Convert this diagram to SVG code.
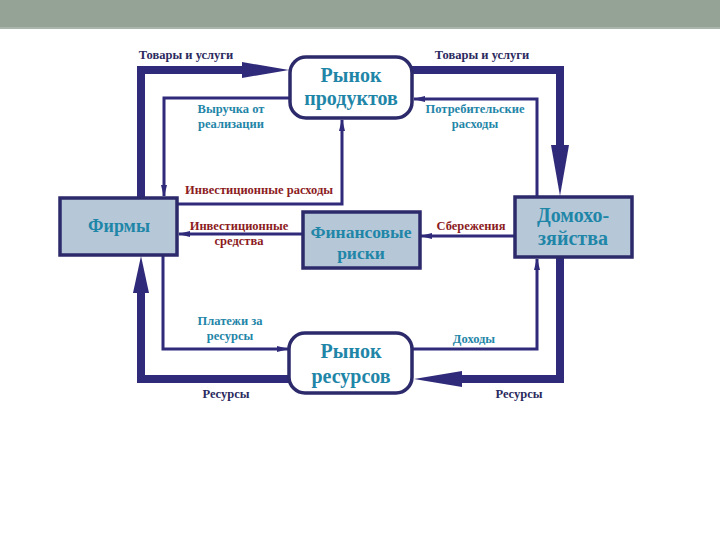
<svg xmlns="http://www.w3.org/2000/svg" width="720" height="540" viewBox="0 0 720 540">
<defs>
<style>
.lbl{font-family:"Liberation Serif","DejaVu Serif",serif;font-weight:bold;font-size:12.5px;text-anchor:middle}
.navy{fill:#2b2a5e}
.teal{fill:#1f86a8}
.red{fill:#8c1c1e}
.node{font-family:"Liberation Serif","DejaVu Serif",serif;font-weight:bold;font-size:20px;text-anchor:middle;fill:#1f86a8}
.box{fill:#b6c8d8;stroke:#2d2a6b;stroke-width:3.5}
.mkt{fill:#ffffff;stroke:#2d2a6b;stroke-width:3.5}
.thick{fill:none;stroke:#2f2a7a;stroke-width:8}
.thin{fill:none;stroke:#2f2a7a;stroke-width:3}
.head{fill:#2f2a7a}
</style>
<marker id="ah" markerWidth="12" markerHeight="8" refX="11" refY="4" orient="auto" markerUnits="userSpaceOnUse">
<path d="M0,1 L12,4 L0,7 Z" fill="#2f2a7a"/>
</marker>
</defs>
<rect x="0" y="0" width="720" height="540" fill="#ffffff"/>
<rect x="0" y="0" width="720" height="27" fill="#94a396"/>
<rect x="0" y="27" width="720" height="2" fill="#a9b5ab"/>

<g id="connectors">
<path class="thick" d="M141,198 L141,70 L245,70"/>
<polygon class="head" points="242,62 289,70 242,78"/>
<path class="thick" d="M412,70 L560,70 L560,148"/>
<polygon class="head" points="551,145 560,196 569,145"/>
<path class="thick" d="M560,257 L560,379 L460,379"/>
<polygon class="head" points="462,371 414,379 462,387"/>
<path class="thick" d="M289,379 L141,379 L141,290"/>
<polygon class="head" points="133,293 141,256 149,293"/>
<path class="thin" d="M290,98 L164,98 L164,196" marker-end="url(#ah)"/>
<path class="thin" d="M537,197 L537,99 L414,99" marker-end="url(#ah)"/>
<path class="thin" d="M163,256 L163,349 L288,349" marker-end="url(#ah)"/>
<path class="thin" d="M412,349 L537,349 L537,259" marker-end="url(#ah)"/>
<path class="thin" d="M177,204 L342,204 L342,120" marker-end="url(#ah)"/>
<path class="thin" d="M303,234 L179,234" marker-end="url(#ah)"/>
<path class="thin" d="M515,236 L421,236" marker-end="url(#ah)"/>
</g>

<g id="labels">
<text class="lbl navy" x="186" y="59">Товары и услуги</text>
<text class="lbl navy" x="482" y="59">Товары и услуги</text>
<text class="lbl teal" x="231" y="113">Выручка от</text>
<text class="lbl teal" x="231" y="128">реализации</text>
<text class="lbl teal" x="475" y="113">Потребительские</text>
<text class="lbl teal" x="475" y="128">расходы</text>
<text class="lbl red" x="259" y="194">Инвестиционные расходы</text>
<text class="lbl red" x="239" y="230">Инвестиционные</text>
<text class="lbl red" x="239" y="245">средства</text>
<text class="lbl red" x="471" y="230">Сбережения</text>
<text class="lbl teal" x="230" y="325">Платежи за</text>
<text class="lbl teal" x="230" y="340">ресурсы</text>
<text class="lbl teal" x="474" y="343">Доходы</text>
<text class="lbl navy" x="226" y="398">Ресурсы</text>
<text class="lbl navy" x="519" y="398">Ресурсы</text>
</g>

<g id="product-market">
<rect class="mkt" x="290" y="57" width="122" height="61" rx="16"/>
<text class="node" x="351" y="82">Рынок</text>
<text class="node" x="351" y="105">продуктов</text>
</g>
<g id="resource-market">
<rect class="mkt" x="289" y="333" width="123" height="60" rx="16"/>
<text class="node" x="351" y="358">Рынок</text>
<text class="node" x="351" y="383">ресурсов</text>
</g>
<g id="firms">
<rect class="box" x="60" y="198" width="117" height="57"/>
<text class="node" x="119" y="232" style="font-size:18px">Фирмы</text>
</g>
<g id="financial">
<rect class="box" x="303" y="212" width="117" height="56"/>
<text class="node" x="361" y="238" style="font-size:17.5px">Финансовые</text>
<text class="node" x="361" y="259" style="font-size:17.5px">риски</text>
</g>
<g id="households">
<rect class="box" x="515" y="197" width="117" height="60"/>
<text class="node" x="573" y="222">Домохо-</text>
<text class="node" x="573" y="245">зяйства</text>
</g>
</svg>
